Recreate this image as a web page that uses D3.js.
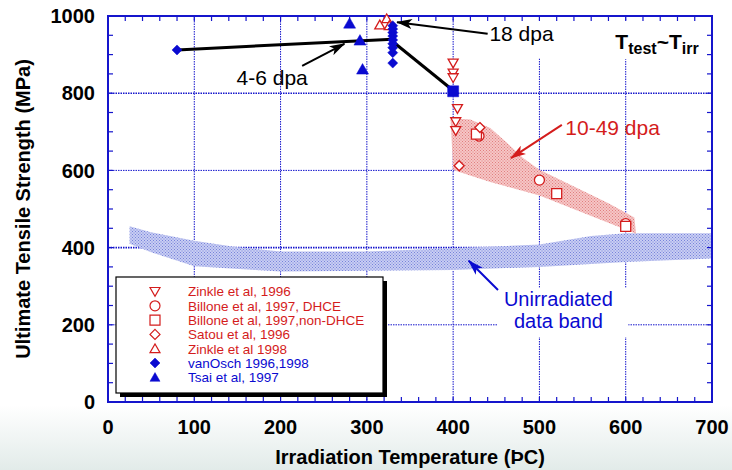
<!DOCTYPE html>
<html>
<head>
<meta charset="utf-8">
<script src="https://cdn.jsdelivr.net/npm/d3@7"></script>
<style>
  body { margin: 0; background: #fff; }
  svg { display: block; font-family: Arial, "Liberation Sans", sans-serif; }
</style>
</head>
<body>
<div id="chart"></div>
<script>
var svgWidth = 732;
var svgHeight = 470;

// data: [temperature C, UTS MPa]
var zinkle1996 = [[400, 878], [400, 852], [400, 840], [405, 760], [403, 726], [403, 703]];
var billoneDHCE = [[430, 689], [500, 575], [600, 462]];
var billoneNonDHCE = [[427, 694], [520, 540], [600, 455]];
var satou1996 = [[431, 711], [407, 612]];
var zinkle1998 = [[315, 977], [323, 993], [326, 975]];
var vanOsch = [[80, 912], [330, 975], [330, 966], [330, 957], [330, 948], [330, 938], [330, 928], [330, 918], [330, 905], [330, 878]];
var tsai1997 = [[280, 981], [292, 937], [295, 862]];
var blueSquare = [[400, 805]];

var line46dpa = [[80, 912], [330, 940]];
var line18dpa = [[332, 930], [400, 807]];

var redBandTop = [[397, 735], [420, 732], [443, 710], [462, 672], [481, 632], [500, 602], [540, 558], [580, 515], [610, 478]];
var redBandBottom = [[612, 436], [560, 482], [500, 535], [443, 570], [400, 601]];
var blueBandTop = [[25, 455], [50, 440], [100, 418], [150, 401], [200, 390], [300, 390], [400, 398], [500, 408], [560, 430], [600, 437], [700, 437]];
var blueBandBottom = [[700, 372], [600, 363], [500, 350], [400, 342], [300, 340], [200, 338], [100, 352], [50, 388], [25, 410]];

var xTicks = [0, 100, 200, 300, 400, 500, 600, 700];
var yTicks = [0, 200, 400, 600, 800, 1000];

var legendItems = [
  {label: "Zinkle et al, 1996", symbol: "tridown", filled: false},
  {label: "Billone et al, 1997, DHCE", symbol: "circle", filled: false},
  {label: "Billone et al, 1997,non-DHCE", symbol: "square", filled: false},
  {label: "Satou et al, 1996", symbol: "diamond", filled: false},
  {label: "Zinkle et al 1998", symbol: "triup", filled: false},
  {label: "vanOsch 1996,1998", symbol: "diamond", filled: true},
  {label: "Tsai et al, 1997", symbol: "triup", filled: true}
];

var red = "#d41c1c";
var blue = "#0a0ad0";
var axisBlue = "#1515cc";

var margin = {top: 16, right: 20, bottom: 68, left: 108};

var svg = d3.select("#chart")
  .append("svg")
  .attr("width", svgWidth)
  .attr("height", svgHeight);

var defs = svg.append("defs");

// slide background fade at the bottom
var bg = defs.append("linearGradient").attr("id", "bgfade").attr("x1", 0).attr("y1", 0).attr("x2", 0).attr("y2", 1);
bg.append("stop").attr("offset", "0%").attr("stop-color", "#ffffff");
bg.append("stop").attr("offset", "100%").attr("stop-color", "#e2ebe9");
svg.append("rect").attr("x", 0).attr("y", 405).attr("width", svgWidth).attr("height", 65).attr("fill", "url(#bgfade)");

function makePattern(id, base, dot) {
  var p = defs.append("pattern").attr("id", id)
    .attr("patternUnits", "userSpaceOnUse").attr("width", 3).attr("height", 3);
  p.append("rect").attr("width", 3).attr("height", 3).attr("fill", base);
  p.append("rect").attr("x", 0).attr("y", 0).attr("width", 1).attr("height", 1).attr("fill", dot);
  p.append("rect").attr("x", 1.5).attr("y", 1.5).attr("width", 1).attr("height", 1).attr("fill", dot);
}
makePattern("bluedots", "#c8cdf3", "#7783da");
makePattern("reddots", "#f6c6c6", "#e07f7f");

defs.append("filter").attr("id", "soft")
  .append("feGaussianBlur").attr("stdDeviation", 0.7);

function arrowMarker(id, color) {
  defs.append("marker").attr("id", id)
    .attr("viewBox", "0 0 16 10").attr("refX", 15).attr("refY", 5)
    .attr("markerWidth", 16).attr("markerHeight", 10)
    .attr("markerUnits", "userSpaceOnUse")
    .attr("orient", "auto")
    .append("path").attr("d", "M0,0 L16,5 L0,10 L4,5 Z").attr("fill", color);
}
arrowMarker("arrowBlack", "#000");
arrowMarker("arrowRed", red);
arrowMarker("arrowBlue", blue);

var xScale = d3.scaleLinear().domain([0, 700]).range([margin.left, svgWidth - margin.right]);
var yScale = d3.scaleLinear().domain([0, 1000]).range([svgHeight - margin.bottom, margin.top]);

var plotLeft = xScale(0), plotRight = xScale(700), plotTop = yScale(1000), plotBottom = yScale(0);

// grid
var grid = svg.append("g").attr("stroke", axisBlue).attr("stroke-dasharray", "1.5,1").attr("stroke-width", 1);
grid.selectAll(".gx").data(xTicks.slice(1, -1)).enter().append("line")
  .attr("x1", d => xScale(d)).attr("x2", d => xScale(d))
  .attr("y1", plotTop).attr("y2", plotBottom);
grid.selectAll(".gy").data(yTicks.slice(1, -1)).enter().append("line")
  .attr("y1", d => yScale(d)).attr("y2", d => yScale(d))
  .attr("x1", plotLeft).attr("x2", plotRight)
  .attr("stroke-width", d => (d === 800 || d === 400) ? 1.6 : 1);

// white boxes behind annotation text (they cut the grid)
var boxes = [
  {x0: 440, x1: 518, y0: 935, y1: 890},
  {x0: 489, x1: 557, y0: 990, y1: 920},
  {x0: 584, x1: 692, y0: 990, y1: 888},
  {x0: 452, x1: 603, y0: 296, y1: 168}
];
svg.append("g").selectAll("rect").data(boxes).enter().append("rect")
  .attr("x", d => xScale(d.x0)).attr("width", d => xScale(d.x1) - xScale(d.x0))
  .attr("y", d => yScale(d.y0)).attr("height", d => yScale(d.y1) - yScale(d.y0))
  .attr("fill", "#fff");

var area = d3.line().x(d => xScale(d[0])).y(d => yScale(d[1])).curve(d3.curveLinearClosed);

// bands
svg.append("path").datum(blueBandTop.concat(blueBandBottom))
  .attr("d", area).attr("fill", "url(#bluedots)").attr("filter", "url(#soft)");
svg.append("path").datum(redBandTop.concat(redBandBottom))
  .attr("d", area).attr("fill", "url(#reddots)").attr("filter", "url(#soft)");

// axes frame with inward minor ticks
var frame = svg.append("g").attr("stroke", axisBlue).attr("stroke-width", 1.2);
var xMinor = d3.range(0, 701, 20);
var yMinor = d3.range(0, 1001, 50);
frame.selectAll(".tb").data(xMinor).enter().append("line")
  .attr("x1", d => xScale(d)).attr("x2", d => xScale(d))
  .attr("y1", plotBottom).attr("y2", plotBottom - 5);
frame.selectAll(".tt").data(xMinor).enter().append("line")
  .attr("x1", d => xScale(d)).attr("x2", d => xScale(d))
  .attr("y1", plotTop).attr("y2", plotTop + 5);
frame.selectAll(".tl").data(yMinor).enter().append("line")
  .attr("y1", d => yScale(d)).attr("y2", d => yScale(d))
  .attr("x1", plotLeft).attr("x2", plotLeft + 5);
frame.selectAll(".tr").data(yMinor).enter().append("line")
  .attr("y1", d => yScale(d)).attr("y2", d => yScale(d))
  .attr("x1", plotRight).attr("x2", plotRight - 5);
svg.append("rect").attr("x", plotLeft).attr("y", plotTop)
  .attr("width", plotRight - plotLeft).attr("height", plotBottom - plotTop)
  .attr("fill", "none").attr("stroke", axisBlue).attr("stroke-width", 2);

// tick labels
svg.append("g").selectAll("text").data(xTicks).enter().append("text")
  .attr("x", d => xScale(d)).attr("y", plotBottom + 32)
  .attr("text-anchor", "middle").attr("font-size", 20).attr("font-weight", "bold")
  .text(d => d);
svg.append("g").selectAll("text").data(yTicks).enter().append("text")
  .attr("x", plotLeft - 13).attr("y", d => yScale(d)).attr("dy", "0.36em")
  .attr("text-anchor", "end").attr("font-size", 20).attr("font-weight", "bold")
  .text(d => d);

// axis titles
svg.append("text")
  .attr("x", (plotLeft + plotRight) / 2).attr("y", 464)
  .attr("text-anchor", "middle").attr("font-size", 20).attr("font-weight", "bold")
  .text("Irradiation Temperature (ÞC)");
svg.append("text")
  .attr("transform", "translate(30," + ((plotTop + plotBottom) / 2) + ") rotate(-90)")
  .attr("text-anchor", "middle").attr("font-size", 20).attr("font-weight", "bold")
  .text("Ultimate Tensile Strength (MPa)");

// black trend lines
var line = d3.line().x(d => xScale(d[0])).y(d => yScale(d[1]));
[line46dpa, line18dpa].forEach(function(l) {
  svg.append("path").datum(l).attr("d", line)
    .attr("fill", "none").attr("stroke", "#000").attr("stroke-width", 3);
});

// symbols
function symbolPath(type, s) {
  if (type === "tridown") return "M" + (-s) + "," + (-s * 0.8) + "L" + s + "," + (-s * 0.8) + "L0," + (s * 0.95) + "Z";
  if (type === "triup") return "M" + (-s) + "," + (s * 0.8) + "L" + s + "," + (s * 0.8) + "L0," + (-s * 0.95) + "Z";
  if (type === "diamond") return "M0," + (-s) + "L" + s + ",0L0," + s + "L" + (-s) + ",0Z";
  if (type === "square") return "M" + (-s) + "," + (-s) + "H" + s + "V" + s + "H" + (-s) + "Z";
  return "M" + s + ",0A" + s + "," + s + " 0 1,1 " + (-s) + ",0A" + s + "," + s + " 0 1,1 " + s + ",0Z";
}

function drawPoints(data, type, size, filled, color) {
  svg.append("g").selectAll("path").data(data).enter().append("path")
    .attr("transform", d => "translate(" + xScale(d[0]) + "," + yScale(d[1]) + ")")
    .attr("d", symbolPath(type, size))
    .attr("fill", filled ? color : "#fff")
    .attr("stroke", color)
    .attr("stroke-width", filled ? 0.5 : 1.3);
}

drawPoints(zinkle1996, "tridown", 5, false, red);
drawPoints(billoneDHCE, "circle", 5, false, red);
drawPoints(billoneNonDHCE, "square", 5, false, red);
drawPoints(satou1996, "diamond", 5, false, red);
drawPoints(zinkle1998, "triup", 5, false, red);
drawPoints(vanOsch, "diamond", 5, true, blue);
drawPoints(tsai1997, "triup", 6, true, blue);
drawPoints(blueSquare, "square", 5.5, true, blue);

// annotation arrows
var arrows = [
  {from: [225, 871], to: [274, 928], color: "#000", marker: "arrowBlack"},
  {from: [440, 954], to: [335, 984], color: "#000", marker: "arrowBlack"},
  {from: [526, 718], to: [467, 632], color: red, marker: "arrowRed"},
  {from: [452, 290], to: [418, 366], color: blue, marker: "arrowBlue"}
];
svg.append("g").selectAll("line").data(arrows).enter().append("line")
  .attr("x1", d => xScale(d.from[0])).attr("y1", d => yScale(d.from[1]))
  .attr("x2", d => xScale(d.to[0])).attr("y2", d => yScale(d.to[1]))
  .attr("stroke", d => d.color).attr("stroke-width", 2)
  .attr("marker-end", d => "url(#" + d.marker + ")");

var labels = [
  {text: "4-6 dpa", x: 149, y: 822, color: "#000"},
  {text: "18 dpa", x: 442, y: 936, color: "#000"},
  {text: "10-49 dpa", x: 530, y: 692, color: red}
];
svg.append("g").selectAll("text").data(labels).enter().append("text")
  .attr("x", d => xScale(d.x)).attr("y", d => yScale(d.y))
  .attr("font-size", 21).attr("fill", d => d.color)
  .text(d => d.text);

var unirr = svg.append("text").attr("text-anchor", "middle").attr("font-size", 20).attr("fill", blue);
unirr.append("tspan").attr("x", xScale(522)).attr("y", yScale(249)).text("Unirradiated");
unirr.append("tspan").attr("x", xScale(522)).attr("y", yScale(191)).text("data band");

var tt = svg.append("text").attr("x", xScale(588)).attr("y", yScale(915))
  .attr("font-size", 21).attr("font-weight", "bold");
tt.append("tspan").text("T");
tt.append("tspan").attr("font-size", 16).attr("dy", 5).text("test");
tt.append("tspan").attr("dy", -5).text("~T");
tt.append("tspan").attr("font-size", 16).attr("dy", 5).text("irr");

// legend
var lg = {x: 116, y: 277, w: 267, h: 116};
svg.append("rect").attr("x", lg.x + 4).attr("y", lg.y + 4).attr("width", lg.w).attr("height", lg.h).attr("fill", "#000");
svg.append("rect").attr("x", lg.x).attr("y", lg.y).attr("width", lg.w).attr("height", lg.h)
  .attr("fill", "#fff").attr("stroke", "#000").attr("stroke-width", 1.2);

var legendRows = svg.append("g").selectAll("g").data(legendItems).enter().append("g")
  .attr("transform", (d, i) => "translate(" + (lg.x + 39) + "," + (lg.y + 14.5 + i * 14.3) + ")");
legendRows.append("path")
  .attr("d", d => symbolPath(d.symbol, 5))
  .attr("fill", d => d.filled ? blue : "#fff")
  .attr("stroke", d => d.filled ? blue : red)
  .attr("stroke-width", d => d.filled ? 0.5 : 1.2);
legendRows.append("text")
  .attr("x", 33).attr("dy", "0.36em").attr("font-size", 13.5)
  .attr("fill", d => d.filled ? blue : red)
  .text(d => d.label);
</script>
</body>
</html>
